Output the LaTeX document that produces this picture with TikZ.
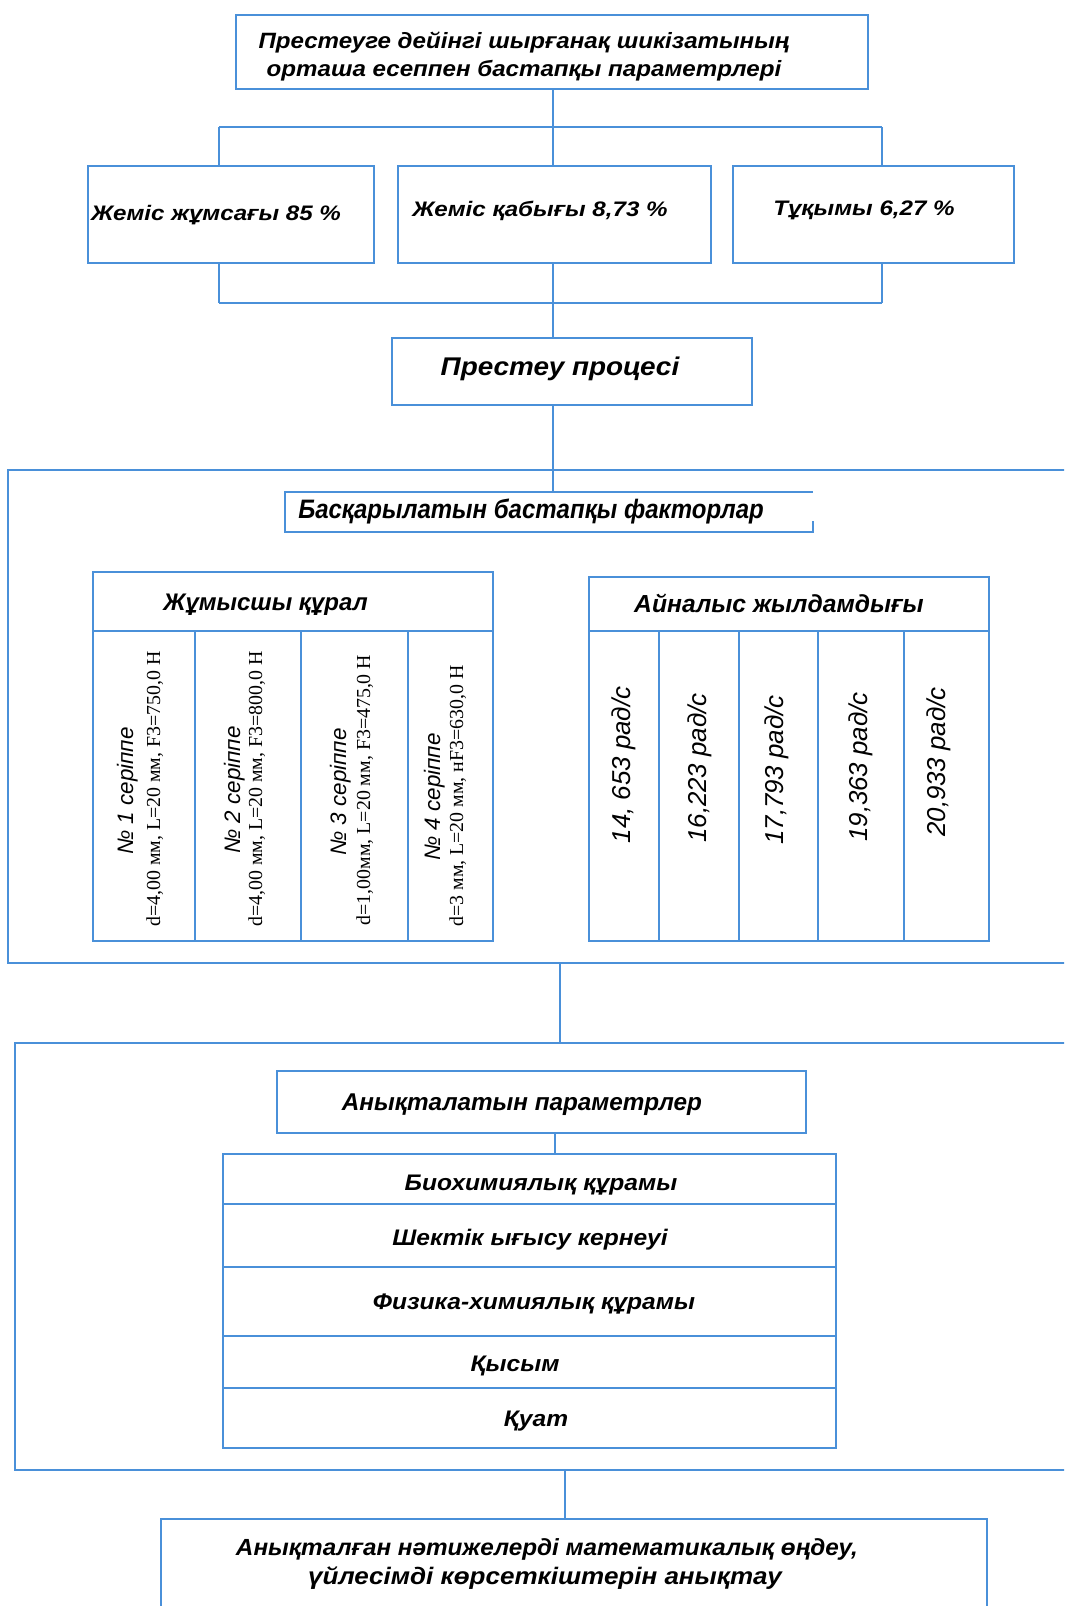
\documentclass[tikz,border=0pt]{standalone}
\usepackage{fontspec}
\setmainfont{Liberation Sans}
\newfontfamily\widef[FakeStretch=1.15]{Liberation Sans}
\newfontfamily\widea[FakeStretch=1.09]{Liberation Sans}
\newfontfamily\wideb[FakeStretch=1.04]{Liberation Sans}
\newfontfamily\narrowf[FakeStretch=0.9]{Liberation Sans}
\newfontfamily\arialf{Liberation Sans}
\newfontfamily\timesf{Liberation Serif}
\usetikzlibrary{fit}
\definecolor{ln}{RGB}{74,144,217}
\tikzset{
  boxst/.style={draw=ln, line width=1.2pt, inner sep=0pt, outer sep=0pt},
  cellst/.style={draw=ln, line width=1.2pt, inner sep=0pt, outer sep=0pt},
  con/.style={draw=ln, line width=1.2pt},
  wt/.style={anchor=base, inner sep=0pt, font={\widef\bfseries\itshape\fontsize{#1}{#1}\selectfont}},
  wa/.style={anchor=base, inner sep=0pt, font={\widea\bfseries\itshape\fontsize{#1}{#1}\selectfont}},
  wb/.style={anchor=base, inner sep=0pt, font={\wideb\bfseries\itshape\fontsize{#1}{#1}\selectfont}},
  wn/.style={anchor=base, inner sep=0pt, font={\narrowf\bfseries\itshape\fontsize{#1}{#1}\selectfont}},
  nt/.style={anchor=base, inner sep=0pt, font={\arialf\bfseries\itshape\fontsize{#1}{#1}\selectfont}},
  rt/.style={anchor=base, inner sep=0pt, rotate=90, font={\arialf\itshape\fontsize{#1}{#1}\selectfont}},
  tt/.style={anchor=base, inner sep=0pt, rotate=90, font={\timesf\fontsize{#1}{#1}\selectfont}},
}
\begin{document}
\begin{tikzpicture}[x=0.75pt,y=-0.75pt]
\clip (0,0) rectangle (1064,1606);
\fill[white] (0,0) rectangle (1064,1606);

% top box
\node[boxst, fit={(236,15) (868,89)}] (top) {};
\node[wa=16.6] (topl1) at (524,48) {Престеуге дейінгі шырғанақ шикізатының};
\node[wa=16.6] (topl2) at (524,76) {орташа есеппен бастапқы параметрлері};

% three boxes
\node[boxst, fit={(88,166) (374,263)}] (b1) {};
\node[boxst, fit={(398,166) (711,263)}] (b2) {};
\node[boxst, fit={(733,166) (1014,263)}] (b3) {};
\node[wt=15.75] (b1t) at (216,220) {Жеміс жұмсағы 85 \%};
\node[wt=15.75] (b2t) at (540,216) {Жеміс қабығы 8,73 \%};
\node[wt=15.75] (b3t) at (864,215) {Тұқымы 6,27 \%};

\coordinate (j1) at (553,127);
\coordinate (j1l) at (219,127);
\coordinate (j1r) at (882,127);
\coordinate (j2) at (553,303);
\coordinate (j2l) at (219,303);
\coordinate (j2r) at (882,303);

\draw[con] (top.south -| j1) -- (j1);
\draw[con] (j1l) -- (j1r);
\draw[con] (j1l) -- (j1l |- b1.north);
\draw[con] (j1) -- (j1 |- b2.north);
\draw[con] (j1r) -- (j1r |- b3.north);
\draw[con] (j2l |- b1.south) -- (j2l);
\draw[con] (j2 |- b2.south) -- (j2);
\draw[con] (j2r |- b3.south) -- (j2r);
\draw[con] (j2l) -- (j2r);

% press box
\node[boxst, fit={(392,338) (752,405)}] (press) {};
\node[wa=19.2] (presst) at (560,375) {Престеу процесі};
\draw[con] (j2) -- (j2 |- press.north);

% frame 1
\coordinate (f1a) at (1075,470);
\coordinate (f1b) at (8,470);
\coordinate (f1c) at (8,963);
\coordinate (f1d) at (1075,963);
\draw[con] (f1a) -- (f1b) -- (f1c) -- (f1d);

% controlled factors box (right edge only partly drawn)
\node[inner sep=0pt, outer sep=0pt, fit={(285,492) (813,532)}] (bask) {};
\draw[con] (bask.south east) ++(0,-11) -- (bask.south east) -- (bask.south west) -- (bask.north west) -- (bask.north east);
\node[wn=20, anchor=base west] (baskt) at (298,518) {Басқарылатын бастапқы факторлар};
\draw[con] (press.south -| j2) -- (j2 |- bask.north);

% left table
\node[cellst, fit={(93,572) (493,631)}] (lth) {};
\node[cellst, fit={(93,631) (195,941)}] (lc1) {};
\node[cellst, fit={(195,631) (301,941)}] (lc2) {};
\node[cellst, fit={(301,631) (408,941)}] (lc3) {};
\node[cellst, fit={(408,631) (493,941)}] (lc4) {};
\node[nt=18] (ltht) at (265.5,610) {Жұмысшы құрал};
\node[rt=16.8] (s1a) at (133,791) {№ 1 серіппе};
\node[tt=14.9] (s1b) at (160,789) {d=4,00 мм, L=20 мм, F3=750,0 Н};
\node[rt=16.8] (s2a) at (240,790) {№ 2 серіппе};
\node[tt=14.9] (s2b) at (262,789) {d=4,00 мм, L=20 мм, F3=800,0 Н};
\node[rt=16.8] (s3a) at (346,792) {№ 3 серіппе};
\node[tt=14.9] (s3b) at (370,790) {d=1,00мм, L=20 мм, F3=475,0 Н};
\node[rt=16.8] (s4a) at (440,797) {№ 4 серіппе};
\node[tt=14.9] (s4b) at (463,796) {d=3 мм, L=20 мм, нF3=630,0 Н};

% right table
\node[cellst, fit={(589,577) (989,631)}] (rth) {};
\node[cellst, fit={(589,631) (659,941)}] (rc1) {};
\node[cellst, fit={(659,631) (739,941)}] (rc2) {};
\node[cellst, fit={(739,631) (818,941)}] (rc3) {};
\node[cellst, fit={(818,631) (904,941)}] (rc4) {};
\node[cellst, fit={(904,631) (989,941)}] (rc5) {};
\node[nt=18.5] (rtht) at (779,612) {Айналыс жылдамдығы};
\node[rt=19.4] (v1) at (630,765) {14, 653 рад/с};
\node[rt=19.4] (v2) at (706,768) {16,223 рад/с};
\node[rt=19.4] (v3) at (783,770) {17,793 рад/с};
\node[rt=19.4] (v4) at (867,767) {19,363 рад/с};
\node[rt=19.4] (v5) at (945,762) {20,933 рад/с};

% frame 2
\coordinate (f2a) at (1075,1043);
\coordinate (f2b) at (15,1043);
\coordinate (f2c) at (15,1470);
\coordinate (f2d) at (1075,1470);
\draw[con] (f2a) -- (f2b) -- (f2c) -- (f2d);
\coordinate (k1) at (560,963);
\draw[con] (k1) -- (k1 |- f2b);

% parameters box
\node[boxst, fit={(277,1071) (806,1133)}] (param) {};
\node[nt=18.2] (paramt) at (522,1110) {Анықталатын параметрлер};
\coordinate (k2) at (555,1133);

% stack of rows
\node[cellst, fit={(223,1154) (836,1204)}] (r1) {};
\node[cellst, fit={(223,1204) (836,1267)}] (r2) {};
\node[cellst, fit={(223,1267) (836,1336)}] (r3) {};
\node[cellst, fit={(223,1336) (836,1388)}] (r4) {};
\node[cellst, fit={(223,1388) (836,1448)}] (r5) {};
\draw[con] (k2) -- (k2 |- r1.north);
\node[wa=16.9] (r1t) at (541,1190) {Биохимиялық құрамы};
\node[wa=16.9] (r2t) at (530,1245) {Шектік ығысу кернеуі};
\node[wa=16.9] (r3t) at (534,1309) {Физика-химиялық құрамы};
\node[wa=16.9] (r4t) at (515,1371) {Қысым};
\node[wa=16.9] (r5t) at (536,1426) {Қуат};

% final box (cut by the page bottom)
\node[inner sep=0pt, outer sep=0pt, fit={(161,1519) (987,1630)}] (fin) {};
\draw[con] (fin.south west) -- (fin.north west) -- (fin.north east) -- (fin.south east);
\coordinate (k3) at (565,1470);
\draw[con] (k3) -- (k3 |- fin.north);
\node[wb=17.5] (fint1) at (547,1555) {Анықталған нәтижелерді математикалық өңдеу,};
\node[wa=17.9] (fint2) at (545,1584) {үйлесімді көрсеткіштерін анықтау};
\end{tikzpicture}
\end{document}
